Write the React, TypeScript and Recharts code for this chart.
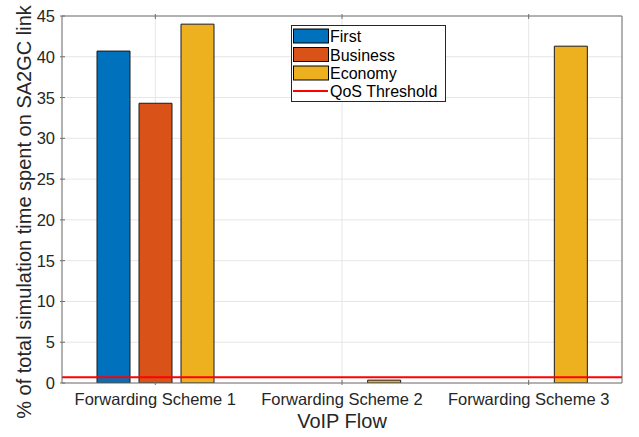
import React from "react";
import {
  ComposedChart,
  Bar,
  XAxis,
  YAxis,
  CartesianGrid,
  ReferenceLine,
  Legend,
} from "recharts";

const categories = ["Forwarding Scheme 1", "Forwarding Scheme 2", "Forwarding Scheme 3"];
const firstValues = [40.7, 0, 0];
const businessValues = [34.3, 0, 0];
const economyValues = [44.0, 0.35, 41.3];
const qosThreshold = 0.7;
const yTicks = [0, 5, 10, 15, 20, 25, 30, 35, 40, 45];
const seriesNames = ["First", "Business", "Economy"];
const seriesColors = ["#0072BD", "#D95319", "#EDB120"];
const thresholdName = "QoS Threshold";

const data = categories.map((c, i) => ({
  name: c,
  First: firstValues[i],
  Business: businessValues[i],
  Economy: economyValues[i],
}));

const FONT = "'Liberation Sans', Arial, Helvetica, sans-serif";
const TXT = "#262626";
const AXIS = "#707070";

const XTickBottom = (props: any) => {
  const { x, y, payload } = props;
  return (
    <g>
      <line x1={x} y1={y} x2={x} y2={y - 5} stroke={AXIS} strokeWidth={1} />
      <text x={x} y={y + 20} textAnchor="middle" fontSize={16.5} fontFamily={FONT} fill={TXT}>
        {payload.value}
      </text>
    </g>
  );
};

const XTickTop = (props: any) => {
  const { x, y } = props;
  return <line x1={x} y1={y} x2={x} y2={y + 5} stroke={AXIS} strokeWidth={1} />;
};

const YTickLeft = (props: any) => {
  const { x, y, payload } = props;
  return (
    <g>
      <line x1={x} y1={y} x2={x + 5} y2={y} stroke={AXIS} strokeWidth={1} />
      <text x={x - 5} y={y + 6} textAnchor="end" fontSize={16.5} fontFamily={FONT} fill={TXT}>
        {payload.value}
      </text>
    </g>
  );
};

const YTickRight = (props: any) => {
  const { x, y } = props;
  return <line x1={x} y1={y} x2={x - 5} y2={y} stroke={AXIS} strokeWidth={1} />;
};

const LegendBox = () => {
  const rowY = [37, 55.5, 74];
  return (
    <svg width={155} height={77} style={{ display: "block" }}>
      <rect x={0.5} y={0.5} width={154} height={76} fill="#fff" stroke="#262626" strokeWidth={1} />
      {seriesNames.map((n, i) => (
        <g key={n}>
          <rect
            x={2.5}
            y={rowY[i] - 26 - 7}
            width={35}
            height={14}
            fill={seriesColors[i]}
            stroke="#000"
            strokeWidth={1}
          />
          <text x={39} y={rowY[i] - 26 + 6} fontSize={16} fontFamily={FONT} fill="#000">
            {n}
          </text>
        </g>
      ))}
      <line x1={2} y1={66} x2={37} y2={66} stroke="#ff0000" strokeWidth={2} />
      <text x={39} y={72} fontSize={16} fontFamily={FONT} fill="#000">
        {thresholdName}
      </text>
    </svg>
  );
};

export default function App() {
  return (
    <div style={{ position: "absolute", left: 0, top: 0, width: 639, height: 437, background: "#fff" }}>
      <ComposedChart
        width={639}
        height={437}
        data={data}
        margin={{ top: 0, right: 0, bottom: 0, left: 0 }}
        barGap={9}
      >
        <CartesianGrid stroke="#e6e6e6" strokeWidth={1} />
        <XAxis
          dataKey="name"
          xAxisId={0}
          height={54}
          tickSize={0}
          axisLine={{ stroke: AXIS }}
          tickLine={false}
          tick={<XTickBottom />}
          interval={0}
          label={(p: any) => (
            <text x={342} y={428} textAnchor="middle" fontSize={20} fontFamily={FONT} fill={TXT}>
              VoIP Flow
            </text>
          )}
        />
        <XAxis
          dataKey="name"
          xAxisId="top"
          orientation="top"
          height={16}
          tickSize={0}
          axisLine={{ stroke: AXIS }}
          tickLine={false}
          tick={<XTickTop />}
          interval={0}
        />
        <YAxis
          yAxisId={0}
          width={62}
          domain={[0, 45]}
          ticks={yTicks}
          tickSize={0}
          axisLine={{ stroke: AXIS }}
          tickLine={false}
          tick={<YTickLeft />}
          interval={0}
          allowDataOverflow
          label={(p: any) => (
            <text
              x={31}
              y={212}
              transform="rotate(-90 31 212)"
              textAnchor="middle"
              fontSize={20}
              fontFamily={FONT}
              fill={TXT}
            >
              % of total simulation time spent on SA2GC link
            </text>
          )}
        />
        <YAxis
          yAxisId="right"
          orientation="right"
          width={17}
          domain={[0, 45]}
          ticks={yTicks}
          tickSize={0}
          axisLine={{ stroke: AXIS }}
          tickLine={false}
          tick={<YTickRight />}
          interval={0}
        />
        <Legend
          layout="vertical"
          align="center"
          verticalAlign="middle"
          wrapperStyle={{ position: "absolute", left: 291, top: 25, width: 155, height: 77 }}
          content={() => <LegendBox />}
        />
        {seriesNames.map((n, i) => (
          <Bar
            key={n}
            dataKey={n}
            barSize={33}
            fill={seriesColors[i]}
            stroke="#1a1a1a"
            strokeWidth={1}
            isAnimationActive={false}
          />
        ))}
        <ReferenceLine y={qosThreshold} stroke="#ff0000" strokeWidth={2} ifOverflow="extendDomain" />
      </ComposedChart>
    </div>
  );
}
